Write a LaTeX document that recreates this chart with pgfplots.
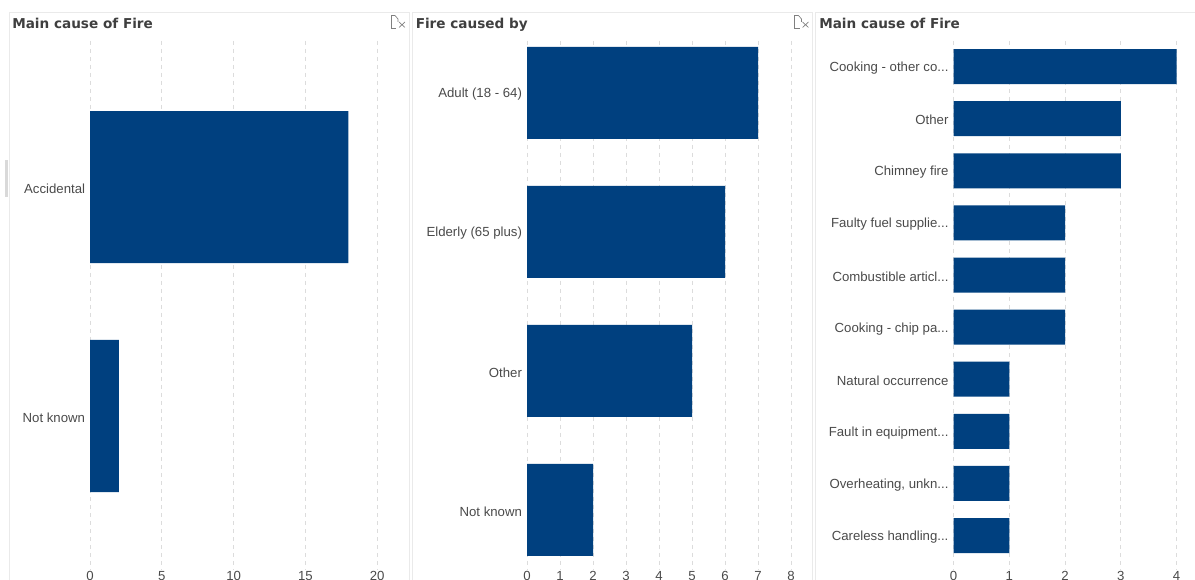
\documentclass[border=0pt]{standalone}
\usepackage{pgfplots}
\pgfplotsset{compat=1.18}
\usepackage{fontspec}
\setmainfont{Liberation Sans}
\newfontfamily\titlefont{DejaVu Sans}
\definecolor{barblue}{HTML}{00407F}
\definecolor{gridc}{HTML}{DCDCDC}
\definecolor{labc}{HTML}{4A4A4A}
\definecolor{panelc}{HTML}{EAEAEA}
\definecolor{titlec}{HTML}{3F3F3F}
\pgfplotsset{
  panel/.style={
    scale only axis,
    xbar,
    y dir=reverse,
    axis line style={draw=none},
    tick style={draw=none},
    xmajorgrids,
    ymajorgrids=false,
    grid style={gridc,dashed,line width=0.75pt},
    ytick=data,
    xmin=0,
    anchor=south west,
    /pgf/number format/assume math mode=true,
    tick label style={font=\fontsize{9.9pt}{11pt}\selectfont,text=labc},
    xticklabel style={inner sep=0pt,anchor=base,yshift=-7.5pt},
    yticklabel style={inner sep=0pt,xshift=-3.6pt,yshift=-1.1pt},
    major tick length=0pt,
  },
  barst/.style={fill=barblue,draw=none},
}
\begin{document}
\begin{tikzpicture}[x=0.75pt,y=0.75pt]
\useasboundingbox (0,0) rectangle (1195,580);
% panels
\draw[panelc,line width=0.75pt] (9,0) -- (9,567) -- (409,567) -- (409,0);
\draw[panelc,line width=0.75pt] (412,0) -- (412,567) -- (812,567) -- (812,0);
\draw[panelc,line width=0.75pt] (815,0) -- (815,567) -- (1195,567);
\fill[gray!30] (5,383) rectangle (8,420);
% titles
\node[anchor=base west,inner sep=0pt,text=titlec,font=\titlefont\bfseries\fontsize{10.2pt}{12pt}\selectfont] at (12,551.5) {Main cause of Fire};
\node[anchor=base west,inner sep=0pt,text=titlec,font=\titlefont\bfseries\fontsize{10.2pt}{12pt}\selectfont] at (415.5,551.5) {Fire caused by};
\node[anchor=base west,inner sep=0pt,text=titlec,font=\titlefont\bfseries\fontsize{10.2pt}{12pt}\selectfont] at (819,551.5) {Main cause of Fire};
% icons
\begin{scope}[gray,line width=0.5pt]
\draw (391,564.5) -- (391,552) -- (396,552);
\draw (391,564.5) -- (395,564.5) -- (398,561) -- (398,558);
\draw (399,558) -- (405,552.5) (399,552.5) -- (405,558);
\end{scope}
\begin{scope}[gray,line width=0.5pt,shift={(403.5,0)}]
\draw (391,564.5) -- (391,552) -- (396,552);
\draw (391,564.5) -- (395,564.5) -- (398,561) -- (398,558);
\draw (399,558) -- (405,552.5) (399,552.5) -- (405,558);
\end{scope}
% axis 1
\begin{axis}[panel,at={(67.6pt,7.5pt)},width=287*0.75pt,height=529*0.75pt,
  xmax=20,xtick={0,5,10,15,20},
  ymin=-0.6376,ymax=1.6725,
  yticklabels={Accidental,Not known},
  bar width=114pt]
\addplot[barst] coordinates {(18,0) (2,1)};
\end{axis}
% axis 2
\begin{axis}[panel,at={(395.25pt,7.5pt)},width=264*0.75pt,height=529*0.75pt,
  xmax=8,xtick={0,1,2,3,4,5,6,7,8},
  ymin=-0.374,ymax=3.432,
  yticklabels={{Adult (18 - 64)},{Elderly (65 plus)},Other,Not known},
  bar width=69pt]
\addplot[barst] coordinates {(7,0) (6,1) (5,2) (2,3)};
\end{axis}
% axis 3
\begin{axis}[panel,at={(715.125pt,7.5pt)},width=223*0.75pt,height=529*0.75pt,
  xmax=4,xtick={0,1,2,3,4},
  ymin=-0.49,ymax=9.66,
  yticklabels={{Cooking - other co.{}.{}.},Other,{Chimney fire},{Faulty fuel supplie.{}.{}.},{Combustible articl.{}.{}.},{Cooking - chip pa.{}.{}.},{Natural occurrence},{Fault in equipment.{}.{}.},{Overheating, unkn.{}.{}.},{Careless handling.{}.{}.}},
  bar width=26.25pt]
\addplot[barst] coordinates {(4,0) (3,1) (3,2) (2,3) (2,4) (2,5) (1,6) (1,7) (1,8) (1,9)};
\end{axis}
\end{tikzpicture}
\end{document}
